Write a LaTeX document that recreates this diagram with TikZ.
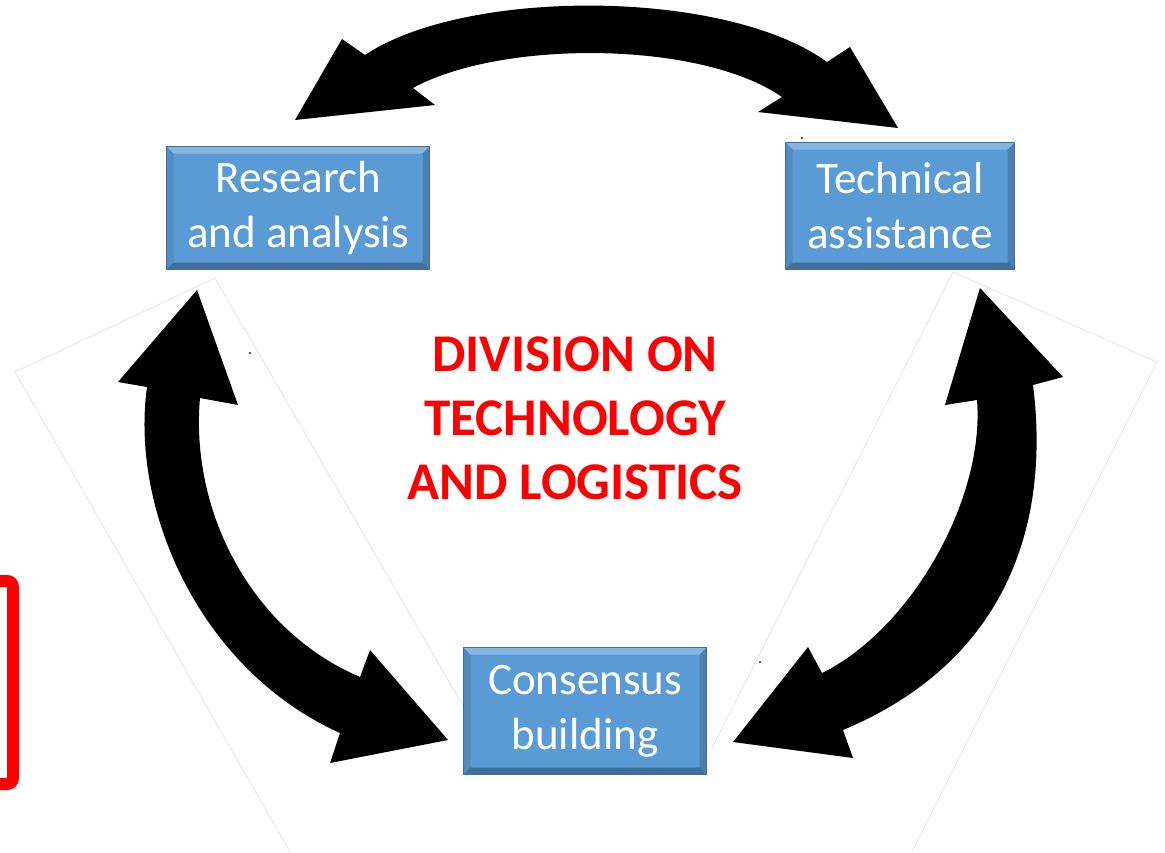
\documentclass[tikz,border=0pt]{standalone}
\usepackage{fontspec}
\setmainfont{Carlito}
\definecolor{boxblue}{RGB}{91,155,213}
\definecolor{boxedge}{RGB}{62,110,160}
\definecolor{faint}{RGB}{224,228,244}
\definecolor{redtxt}{RGB}{255,0,0}
\begin{document}
\begin{tikzpicture}[x=1pt,y=-1pt,
  box/.style={draw=boxedge, line width=1.2pt, fill=boxblue, text=white, align=center,
    inner sep=0pt, font=\fontsize{45}{55}\selectfont,
    path picture={
      \fill[white, opacity=0.28] (path picture bounding box.north west) -- (path picture bounding box.north east)
        -- ([xshift=-7pt,yshift=-7pt]path picture bounding box.north east) -- ([xshift=7pt,yshift=-7pt]path picture bounding box.north west) -- cycle;
      \fill[black, opacity=0.10] (path picture bounding box.north west) -- (path picture bounding box.south west)
        -- ([xshift=7pt,yshift=7pt]path picture bounding box.south west) -- ([xshift=7pt,yshift=-7pt]path picture bounding box.north west) -- cycle;
      \fill[black, opacity=0.18] (path picture bounding box.north east) -- (path picture bounding box.south east)
        -- ([xshift=-7pt,yshift=7pt]path picture bounding box.south east) -- ([xshift=-7pt,yshift=-7pt]path picture bounding box.north east) -- cycle;
      \fill[black, opacity=0.28] (path picture bounding box.south west) -- (path picture bounding box.south east)
        -- ([xshift=-7pt,yshift=7pt]path picture bounding box.south east) -- ([xshift=7pt,yshift=7pt]path picture bounding box.south west) -- cycle;
    }},
  bigarrow/.style={fill=black},
  faintline/.style={draw=faint, line width=0.8pt},
  title/.style={align=center, font=\fontsize{53}{64}\selectfont\bfseries}]
\useasboundingbox (0,0) rectangle (1165,852);
\fill[white] (0,0) rectangle (1165,852);

% faint outlines of pasted pictures
\draw[faintline] (290,852) -- (15,372) -- (215,278) -- (480,735);
\draw[faintline] (712,748) -- (953,272) -- (1157,362) -- (912,852);

% boxes
\node[box, minimum width=263pt, minimum height=123pt] (ra) at (298,208) {Research\\and analysis};
\node[box, minimum width=229pt, minimum height=127pt] (ta) at (900,206) {Technical\\assistance};
\node[box, minimum width=243pt, minimum height=127pt] (cb) at (585,711) {Consensus\\building};

% top double arrow (Research <-> Technical)
\fill[bigarrow] (295,120) -- (342,39) -- (365,55)
  .. controls (465,-12) and (725,-12) .. (827,62)
  -- (850,47) -- (898,128) -- (758,112) -- (782,97)
  .. controls (700,40) and (500,40) .. (413,88)
  -- (435,105) -- cycle;

% left double arrow (Research <-> Consensus)
\fill[bigarrow] (197,290) -- (118,382) -- (147,387)
  .. controls (130,510) and (200,670) .. (340,733)
  -- (330,763) -- (448,740) -- (370,650) -- (360,677)
  .. controls (250,630) and (190,510) .. (200,398)
  -- (238,405) -- cycle;

% right double arrow (Technical <-> Consensus)
\fill[bigarrow] (980,288) -- (1063,377) -- (1033,385)
  .. controls (1050,520) and (1010,660) .. (843,730)
  -- (853,758) -- (733,742) -- (808,647) -- (822,673)
  .. controls (910,630) and (985,500) .. (977,400)
  -- (945,405) -- cycle;

% specks
\fill[black!70] (250,353) circle (1.3pt) (802,138) circle (1.3pt) (760,662) circle (1.3pt);

% title
\node[title, text=redtxt] (title) at (575,418) {DIVISION ON\\TECHNOLOGY\\AND LOGISTICS};

% red frame at left edge
\draw[redtxt, line width=12pt, rounded corners=6pt] (-40,581) rectangle (13,784);
\end{tikzpicture}
\end{document}
